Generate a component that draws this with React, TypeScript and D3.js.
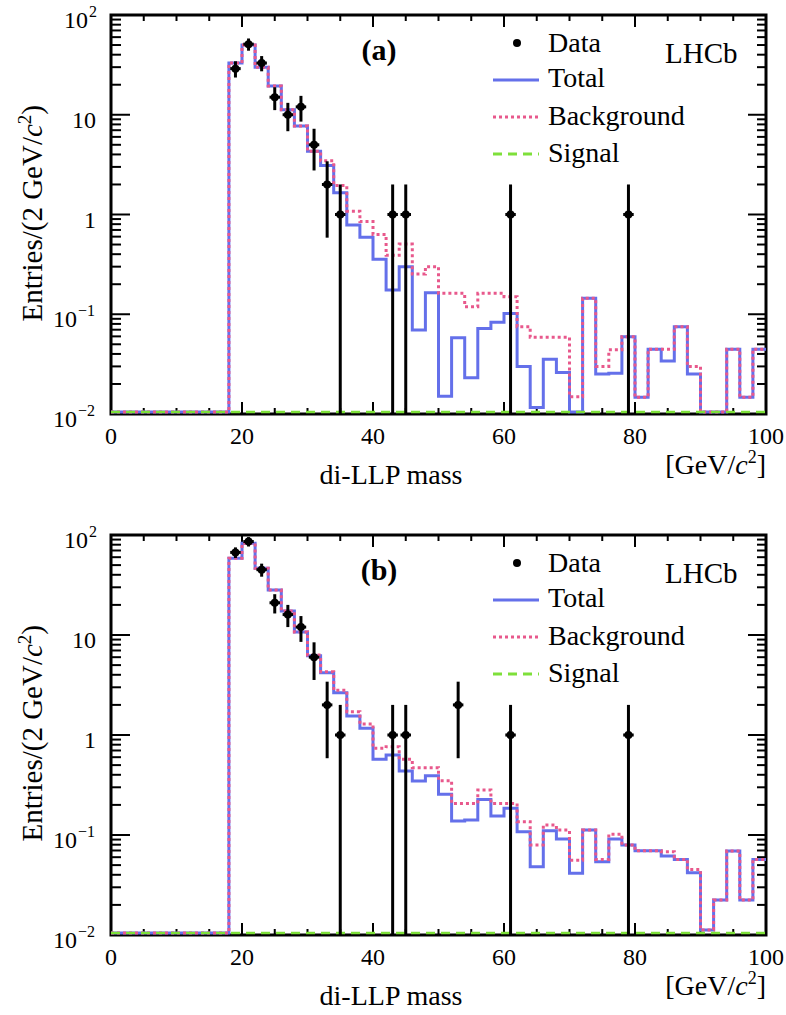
import React from "react";
import * as d3 from "d3";

// ---------- data ----------
const binLowEdges = [0, 2, 4, 6, 8, 10, 12, 14, 16, 18, 20, 22, 24, 26, 28, 30, 32, 34, 36, 38, 40, 42, 44, 46, 48, 50, 52, 54, 56, 58, 60, 62, 64, 66, 68, 70, 72, 74, 76, 78, 80, 82, 84, 86, 88, 90, 92, 94, 96, 98];
const binWidth = 2;

const totalA = [0, 0, 0, 0, 0, 0, 0, 0, 0,
  33, 50, 30, 19.4, 11.2, 7.7, 4.3, 3.1, 1.65, 0.785, 0.59, 0.356, 0.175, 0.3, 0.0695, 0.164, 0.0151, 0.058, 0.0231, 0.072, 0.083, 0.102, 0.03, 0.0116, 0.0353, 0.026, 0.008, 0.145, 0.0252, 0.0256, 0.0596, 0.0147, 0.0446, 0.034, 0.075, 0.0252, 0.008, 0.008, 0.0446, 0.0147, 0.0446];
const backgroundA = [0, 0, 0, 0, 0, 0, 0, 0, 0,
  33, 50, 30, 19.4, 11.2, 7.7, 4.3, 3.45, 1.95, 1.08, 0.85, 0.63, 0.39, 0.506, 0.253, 0.3, 0.162, 0.162, 0.119, 0.162, 0.162, 0.15, 0.075, 0.0587, 0.0587, 0.0587, 0.0149, 0.145, 0.03, 0.044, 0.0596, 0.0147, 0.0446, 0.0446, 0.075, 0.03, 0.008, 0.008, 0.0446, 0.0147, 0.0446];
const signalA = [0, 0, 0, 0, 0, 0, 0, 0, 0,
  0.004, 0.004, 0.004, 0.004, 0.004, 0.004, 0.004, 0.004, 0.004, 0.004, 0.004, 0.004, 0.004, 0.004, 0.004, 0.004, 0.004, 0.004, 0.004, 0.004, 0.004, 0.004, 0.004, 0.004, 0.004, 0.004, 0.004, 0.004, 0.004, 0.004, 0.004, 0.004, 0.004, 0.004, 0.004, 0.004, 0.004, 0.004, 0.004, 0.004, 0.004];
const dataCentersA = [19, 21, 23, 25, 27, 29, 31, 33, 35, 43, 45, 61, 79];
const dataCountsA = [29, 51, 33, 15, 10, 12, 5, 2, 1, 1, 1, 1, 1];

const totalB = [0, 0, 0, 0, 0, 0, 0, 0, 0,
  58.5, 82.6, 46.4, 28.2, 17.4, 10.7, 6.2, 4.2, 2.65, 1.55, 1.17, 0.571, 0.63, 0.436, 0.347, 0.392, 0.255, 0.138, 0.141, 0.227, 0.155, 0.185, 0.108, 0.0482, 0.11, 0.091, 0.0414, 0.112, 0.054, 0.091, 0.0794, 0.0697, 0.0697, 0.0617, 0.057, 0.042, 0.0112, 0.0224, 0.069, 0.0224, 0.057];
const backgroundB = [0, 0, 0, 0, 0, 0, 0, 0, 0,
  58.5, 82.6, 46.4, 28.2, 17.4, 10.7, 6.3, 4.3, 2.8, 1.71, 1.29, 0.736, 0.764, 0.571, 0.471, 0.471, 0.349, 0.207, 0.207, 0.282, 0.207, 0.207, 0.136, 0.0794, 0.126, 0.112, 0.056, 0.112, 0.057, 0.102, 0.0794, 0.0697, 0.0697, 0.068, 0.057, 0.0453, 0.0112, 0.0224, 0.069, 0.0224, 0.057];
const signalB = [0, 0, 0, 0, 0, 0, 0, 0, 0,
  0.004, 0.004, 0.004, 0.004, 0.004, 0.004, 0.004, 0.004, 0.004, 0.004, 0.004, 0.004, 0.004, 0.004, 0.004, 0.004, 0.004, 0.004, 0.004, 0.004, 0.004, 0.004, 0.004, 0.004, 0.004, 0.004, 0.004, 0.004, 0.004, 0.004, 0.004, 0.004, 0.004, 0.004, 0.004, 0.004, 0.004, 0.004, 0.004, 0.004, 0.004];
const dataCentersB = [19, 21, 23, 25, 27, 29, 31, 33, 35, 43, 45, 53, 61, 79];
const dataCountsB = [67, 86, 45, 21, 16, 12, 6, 2, 1, 1, 1, 2, 1, 1];

const xMajorTicks = [0, 20, 40, 60, 80, 100];
const xMinorTicks = [5, 10, 15, 25, 30, 35, 45, 50, 55, 65, 70, 75, 85, 90, 95];
const yMajorTicks = [0.01, 0.1, 1, 10, 100];
const yTickBase = ["10", "10", "1", "10", "10"];
const yTickExp = ["\u22122", "\u22121", "", "", "2"];
const legendLabels = ["Data", "Total", "Background", "Signal"];
const panelLabels = ["(a)", "(b)"];

// ---------- style ----------
const W = 786;
const H = 1015;
const FONT = "'Times New Roman', 'Liberation Serif', Times, serif";
const BLUE = "#6470ea";
const PINK = "#e8588c";
const GREEN = "#7ee03a";
const X0 = 111;
const X1 = 766;

type PanelProps = {
  top: number;
  bottom: number;
  label: string;
  total: number[];
  background: number[];
  signal: number[];
  centers: number[];
  counts: number[];
  id: string;
};

function Panel({ top, bottom, label, total, background, signal, centers, counts, id }: PanelProps) {
  const x = d3.scaleLinear().domain([0, 100]).range([X0, X1]);
  const y = d3.scaleLog().domain([0.01, 100]).range([bottom, top]);
  const floorY = bottom - 2;
  const yv = (v: number) => (v <= 0.01 ? floorY : Math.max(top, Math.min(floorY, y(v))));

  const stepPath = (vals: number[]) => {
    let d = `M${x(binLowEdges[0])},${yv(vals[0])}`;
    vals.forEach((v, i) => {
      d += `V${yv(v)}H${x(binLowEdges[i] + binWidth)}`;
    });
    return d;
  };

  const yMinor: number[] = [];
  [0.01, 0.1, 1, 10].forEach((dec) => {
    for (let k = 2; k <= 9; k++) yMinor.push(dec * k);
  });

  const legendY = [top + 28, top + 65, top + 102, top + 139];
  const legendBase = [top + 37, top + 72, top + 110, top + 147];

  return (
    <g>
      <defs>
        <clipPath id={id}>
          <rect x={X0} y={top} width={X1 - X0} height={bottom - top} />
        </clipPath>
      </defs>
      {/* frame */}
      <rect x={X0} y={top} width={X1 - X0} height={bottom - top} fill="none" stroke="#000" strokeWidth={3} />
      {/* x ticks */}
      {xMajorTicks.map((t) => (
        <g key={"xM" + t}>
          <line x1={x(t)} x2={x(t)} y1={bottom} y2={bottom - 12} stroke="#000" strokeWidth={2} />
          <line x1={x(t)} x2={x(t)} y1={top} y2={top + 12} stroke="#000" strokeWidth={2} />
          <text x={x(t)} y={bottom + 30} textAnchor="middle" fontFamily={FONT} fontSize={24}>{t}</text>
        </g>
      ))}
      {xMinorTicks.map((t) => (
        <g key={"xm" + t}>
          <line x1={x(t)} x2={x(t)} y1={bottom} y2={bottom - 6} stroke="#000" strokeWidth={2} />
          <line x1={x(t)} x2={x(t)} y1={top} y2={top + 6} stroke="#000" strokeWidth={2} />
        </g>
      ))}
      {/* y ticks */}
      {yMajorTicks.map((t, i) => (
        <g key={"yM" + t}>
          <line x1={X0} x2={X0 + 19} y1={y(t)} y2={y(t)} stroke="#000" strokeWidth={2} />
          <line x1={X1} x2={X1 - 18} y1={y(t)} y2={y(t)} stroke="#000" strokeWidth={2} />
          <text x={yTickExp[i] ? 97 - (yTickExp[i].length > 1 ? 20 : 9) : 96} y={y(t) + 13} textAnchor="end" fontFamily={FONT} fontSize={24}>
            {yTickBase[i]}
          </text>
          {yTickExp[i] && (
            <text x={yTickExp[i].length > 1 ? 78 : 89} y={y(t) + 2} textAnchor="start" fontFamily={FONT} fontSize={16}>
              {yTickExp[i]}
            </text>
          )}
        </g>
      ))}
      {yMinor.map((t) => (
        <g key={"ym" + t}>
          <line x1={X0} x2={X0 + 10} y1={y(t)} y2={y(t)} stroke="#000" strokeWidth={2} />
          <line x1={X1} x2={X1 - 9} y1={y(t)} y2={y(t)} stroke="#000" strokeWidth={2} />
        </g>
      ))}
      {/* axis titles */}
      <text x={391} y={bottom + 70} textAnchor="middle" fontFamily={FONT} fontSize={28}>di-LLP mass</text>
      <text x={X1} y={bottom + 60} textAnchor="end" fontFamily={FONT} fontSize={28}>
        [GeV/<tspan fontStyle="italic">c</tspan><tspan fontSize={18} dy={-11}>2</tspan><tspan dy={11}>]</tspan>
      </text>
      <text transform={`translate(42,${top + 90}) rotate(-90)`} textAnchor="end" fontFamily={FONT} fontSize={29}>
        Entries/(2 GeV/<tspan fontStyle="italic">c</tspan><tspan fontSize={19} dy={-11}>2</tspan><tspan dy={11}>)</tspan>
      </text>

      {/* histograms */}
      <g clipPath={`url(#${id})`}>
        <path d={stepPath(total)} fill="none" stroke={BLUE} strokeWidth={3} />
        <path d={stepPath(background)} fill="none" stroke={PINK} strokeWidth={3} strokeDasharray="3,3" />
        <path d={stepPath(signal)} fill="none" stroke={GREEN} strokeWidth={2.5} strokeDasharray="9,6" />
        {/* data */}
        {centers.map((c, i) => {
          const n = counts[i];
          const e = Math.sqrt(n);
          const yHi = y(n + e);
          const yLo = n - e > 0.01 ? y(n - e) : bottom;
          return (
            <g key={"d" + i}>
              <line x1={x(c)} x2={x(c)} y1={yHi} y2={yLo} stroke="#000" strokeWidth={3} />
              <line x1={x(c - 0.8)} x2={x(c + 0.8)} y1={y(n)} y2={y(n)} stroke="#000" strokeWidth={3} />
              <circle cx={x(c)} cy={y(n)} r={4} fill="#000" />
            </g>
          );
        })}
      </g>

      {/* panel label */}
      <text x={379} y={top + 45} textAnchor="middle" fontFamily={FONT} fontSize={30} fontWeight="bold">{label}</text>
      <text x={665} y={top + 48} fontFamily={FONT} fontSize={29}>LHCb</text>

      {/* legend */}
      <circle cx={517} cy={legendY[0]} r={4} fill="#000" />
      <line x1={493} x2={539} y1={legendY[1]} y2={legendY[1]} stroke={BLUE} strokeWidth={3} />
      <line x1={493} x2={539} y1={legendY[2]} y2={legendY[2]} stroke={PINK} strokeWidth={3} strokeDasharray="3,3" />
      <line x1={493} x2={539} y1={legendY[3]} y2={legendY[3]} stroke={GREEN} strokeWidth={3} strokeDasharray="9,6" />
      {legendLabels.map((l, i) => (
        <text key={l} x={548} y={legendBase[i]} fontFamily={FONT} fontSize={28}>{l}</text>
      ))}
    </g>
  );
}

export default function App() {
  return (
    <svg width={W} height={H} style={{ position: "absolute", left: 0, top: 0, background: "#fff" }}>
      <rect x={0} y={0} width={W} height={H} fill="#fff" />
      <Panel id="clipA" top={15} bottom={414} label={panelLabels[0]} total={totalA} background={backgroundA} signal={signalA} centers={dataCentersA} counts={dataCountsA} />
      <Panel id="clipB" top={535} bottom={935} label={panelLabels[1]} total={totalB} background={backgroundB} signal={signalB} centers={dataCentersB} counts={dataCountsB} />
    </svg>
  );
}
